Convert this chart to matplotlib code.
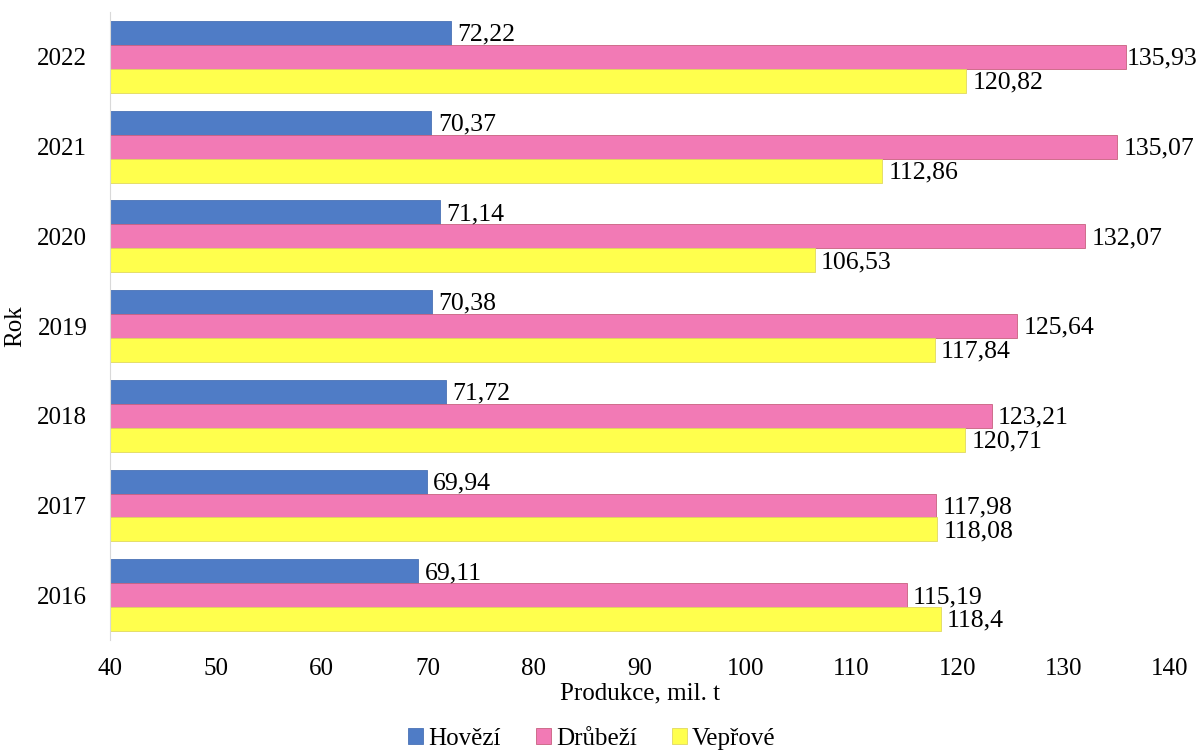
import numpy as np
import matplotlib.pyplot as plt

plt.rcParams['font.family'] = ['Liberation Serif', 'DejaVu Serif']

# meat production by year
years = ['2016', '2017', '2018', '2019', '2020', '2021', '2022']
hovezi = [69.11, 69.94, 71.72, 70.38, 71.14, 70.37, 72.22]
drubezi = [115.19, 117.98, 123.21, 125.64, 132.07, 135.07, 135.93]
veprove = [118.4, 118.08, 120.71, 117.84, 106.53, 112.86, 120.82]

series = [
    ('Hovězí', hovezi, '#4f7cc6', '#4a72b5'),
    ('Drůbeží', drubezi, '#f27ab5', '#c8607f'),
    ('Vepřové', veprove, '#ffff4d', '#e0d860'),
]

fig = plt.figure(figsize=(12, 7.53), dpi=100)
ax = fig.add_axes([0.0913, 0.15, 0.8833, 0.834])

y = np.arange(len(years))
h = 0.267
offsets = [h, 0, -h]
label_max = 136.0  # labels past this would run off the figure

for (name, vals, color, edge), off in zip(series, offsets):
    bars = ax.barh(y + off, vals, height=h, color=color, edgecolor=edge,
                   linewidth=0.6, label=name)
    for b, v in zip(bars, vals):
        lx = min(b.get_width() + 0.6, label_max)
        ax.text(lx, b.get_y() + b.get_height() / 2 - 0.02,
                str(v).replace('.', ','), va='center', ha='left', fontsize=18.5)

ax.set_xlim(40, 140)
ax.set_ylim(-0.5, len(years) - 0.5)
ax.set_xticks(range(40, 141, 10))
ax.set_yticks(y)
ax.set_yticklabels(years)
ax.tick_params(axis='both', length=0, labelsize=18)
ax.tick_params(axis='x', pad=13)
ax.tick_params(axis='y', pad=16)

for s in ['top', 'right', 'bottom']:
    ax.spines[s].set_visible(False)
ax.spines['left'].set_color('#d9d9d9')

ax.set_xlabel('Produkce, mil. t', fontsize=18, labelpad=2)
ax.set_ylabel('Rok', fontsize=18, labelpad=8)

ax.legend(loc='center', bbox_to_anchor=(0.455, -0.157), ncol=3,
          frameon=False, fontsize=18, handlelength=0.6, handleheight=0.6,
          handletextpad=0.2, columnspacing=1.4)

fig.savefig('out.png', dpi=100)
